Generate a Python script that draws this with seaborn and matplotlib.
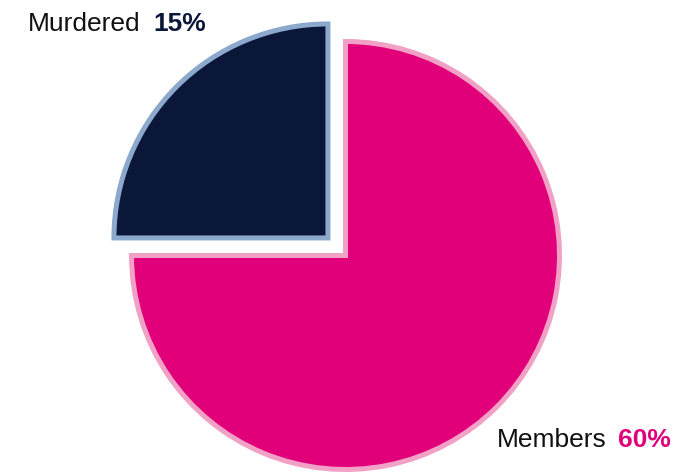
import matplotlib
matplotlib.use("Agg")
import matplotlib.pyplot as plt
import seaborn as sns

categories = ["Murdered", "Members"]
pct_labels = ["15%", "60%"]
wedge_sizes = [25, 75]  # visual wedge proportions
fill_colors = ["#0B1738", "#E2007A"]
edge_colors = ["#8CA8CD", "#F1A1C5"]

sns.set_theme(style="white")
plt.rcParams['font.family'] = ['Liberation Sans', 'DejaVu Sans']

W, H = 675, 474
R = 214
fig = plt.figure(figsize=(W / 100, H / 100), dpi=100)
ax = fig.add_axes([0, 0, 1, 1])

wedges, _ = ax.pie(wedge_sizes, colors=fill_colors, startangle=90, counterclock=True,
                   center=(345.5, H - 255.5), radius=R, explode=[0.116 * R, 0.0],
                   frame=True)
for w, ec in zip(wedges, edge_colors):
    w.set_edgecolor(ec)
    w.set_linewidth(3.6)
ax.set_xlim(0, W)
ax.set_ylim(0, H)
ax.set_aspect("equal")
ax.axis("off")

fs = 19
ax.text(28, H - 31, categories[0], fontsize=fs, color="#111111", ha="left", va="baseline")
ax.text(153, H - 31, pct_labels[0], fontsize=fs, color=fill_colors[0], fontweight="bold",
        ha="left", va="baseline")
ax.text(497, H - 447, categories[1], fontsize=fs, color="#111111", ha="left", va="baseline")
ax.text(618, H - 447, pct_labels[1], fontsize=fs, color=fill_colors[1], fontweight="bold",
        ha="left", va="baseline")

fig.savefig("out.png", dpi=100)
